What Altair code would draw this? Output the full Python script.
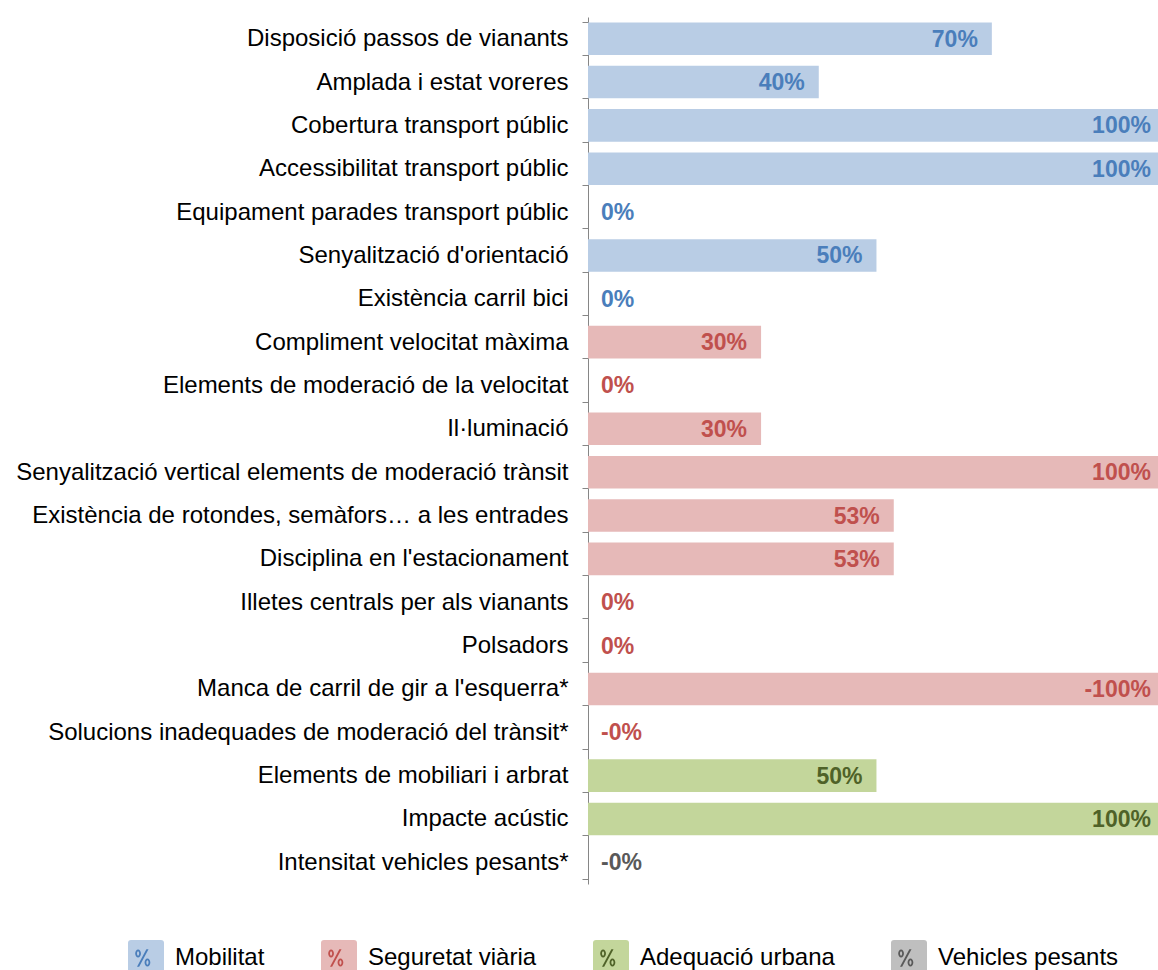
import altair as alt
import pandas as pd

indicators = [
    "Disposició passos de vianants",
    "Amplada i estat voreres",
    "Cobertura transport públic",
    "Accessibilitat transport públic",
    "Equipament parades transport públic",
    "Senyalització d'orientació",
    "Existència carril bici",
    "Compliment velocitat màxima",
    "Elements de moderació de la velocitat",
    "Il·luminació",
    "Senyalització vertical elements de moderació trànsit",
    "Existència de rotondes, semàfors… a les entrades",
    "Disciplina en l'estacionament",
    "Illetes centrals per als vianants",
    "Polsadors",
    "Manca de carril de gir a l'esquerra*",
    "Solucions inadequades de moderació del trànsit*",
    "Elements de mobiliari i arbrat",
    "Impacte acústic",
    "Intensitat vehicles pesants*",
]
values = [70, 40, 100, 100, 0, 50, 0, 30, 0, 30, 100, 53, 53, 0, 0, -100, -0.0, 50, 100, -0.0]
value_labels = ["70%", "40%", "100%", "100%", "0%", "50%", "0%", "30%", "0%", "30%",
                "100%", "53%", "53%", "0%", "0%", "-100%", "-0%", "50%", "100%", "-0%"]
groups = ["Mobilitat"] * 7 + ["Seguretat viària"] * 10 + ["Adequació urbana"] * 2 + ["Vehicles pesants"]

group_names = ["Mobilitat", "Seguretat viària", "Adequació urbana", "Vehicles pesants"]
bar_colors = ["#B9CDE5", "#E6B9B8", "#C3D69B", "#BFBFBF"]
label_colors = ["#4A7EBB", "#C0504D", "#4F6228", "#595959"]

label_color_map = dict(zip(group_names, label_colors))

df = pd.DataFrame({
    "indicador": indicators,
    "valor": values,
    "etiqueta": value_labels,
    "grup": groups,
})
df["magnitud"] = df["valor"].abs()
df["color_etiqueta"] = df["grup"].map(label_color_map)

FONT = "Liberation Sans"

# legend symbol shapes (unit space [-1, 1])
ROUNDED_SQUARE = ("M -0.83,-1 L 0.83,-1 Q 1,-1 1,-0.83 L 1,0.83 Q 1,1 0.83,1 "
                  "L -0.83,1 Q -1,1 -1,0.83 L -1,-0.83 Q -1,-1 -0.83,-1 Z")


def ring(cx, cy, rx, ry, t):
    o = (f"M {cx - rx:.3f},{cy:.3f} A {rx},{ry} 0 1,0 {cx + rx:.3f},{cy:.3f} "
         f"A {rx},{ry} 0 1,0 {cx - rx:.3f},{cy:.3f} Z ")
    rx2, ry2 = rx - t, ry - t
    i = (f"M {cx - rx2:.3f},{cy:.3f} A {rx2:.3f},{ry2:.3f} 0 1,1 {cx + rx2:.3f},{cy:.3f} "
         f"A {rx2:.3f},{ry2:.3f} 0 1,1 {cx - rx2:.3f},{cy:.3f} Z ")
    return o + i


PERCENT = (ring(-0.44, -0.25, 0.16, 0.22, 0.1)
           + ring(0.08, 0.25, 0.16, 0.22, 0.1)
           + "M 0.02,-0.48 L 0.14,-0.48 L -0.38,0.48 L -0.50,0.48 Z")

LEGEND_COMMON = dict(
    title=None,
    orient="none",
    legendX=-460,
    legendY=923,
    direction="horizontal",
    symbolSize=1296,
    symbolStrokeWidth=0,
    symbolOpacity=1,
    labelFont=FONT,
    labelFontSize=24,
    labelOffset=11,
    columnPadding=56,
    labelLimit=400,
)

x_scale = alt.Scale(domain=[0, 98.8], nice=False)

y_enc = alt.Y(
    "indicador:N",
    sort=indicators,
    scale=alt.Scale(paddingInner=0.25, paddingOuter=0.125),
    axis=alt.Axis(
        title=None,
        labelFont=FONT,
        labelFontSize=24,
        labelColor="#000000",
        labelLimit=700,
        labelPadding=14,
        tickBand="extent",
        tickSize=6,
        tickColor="#868686",
        domainColor="#868686",
        grid=False,
    ),
)
y_plain = alt.Y("indicador:N", sort=indicators)
x_plain = alt.X("magnitud:Q", scale=x_scale, axis=None)

bars = alt.Chart(df).mark_bar(clip=True).encode(
    y=y_enc,
    x=x_plain,
    color=alt.Color(
        "grup:N",
        scale=alt.Scale(domain=group_names, range=bar_colors),
        legend=alt.Legend(symbolType=ROUNDED_SQUARE, labelColor="#000000", **LEGEND_COMMON),
    ),
)

text_nonzero = alt.Chart(df).transform_filter(
    "datum.magnitud != 0"
).mark_text(
    align="right", baseline="middle", dx=-14, dy=1,
    font=FONT, fontSize=23, fontWeight="bold",
).encode(
    y=y_plain,
    x=x_plain,
    text="etiqueta:N",
    color=alt.Color("color_etiqueta:N", scale=None),
)

text_zero = alt.Chart(df).transform_filter(
    "datum.magnitud == 0"
).mark_text(
    align="left", baseline="middle", dx=13, dy=1,
    font=FONT, fontSize=23, fontWeight="bold",
).encode(
    y=y_plain,
    x=x_plain,
    text="etiqueta:N",
    color=alt.Color("color_etiqueta:N", scale=None),
)

# invisible layer that only provides the "%" glyphs drawn on the legend symbols
percent_layer = alt.Chart(df).mark_point(filled=True, opacity=0).encode(
    y=y_plain,
    x=x_plain,
    color=alt.Color(
        "grup:N",
        scale=alt.Scale(domain=group_names, range=label_colors),
        legend=alt.Legend(symbolType=PERCENT, labelOpacity=0, labelColor="#000000", **LEGEND_COMMON),
    ),
)

chart = alt.layer(bars, text_zero, text_nonzero, percent_layer).resolve_scale(
    color="independent"
).resolve_legend(
    color="independent"
).properties(
    width=570,
    height=867,
    background="#FFFFFF",
    autosize=alt.AutoSizeParams(type="none"),
    padding={"left": 588, "top": 17, "right": 0, "bottom": 86},
).configure_view(strokeWidth=0, stroke="transparent")

chart.save("out.html", embed_options={"renderer": "svg", "actions": False})
